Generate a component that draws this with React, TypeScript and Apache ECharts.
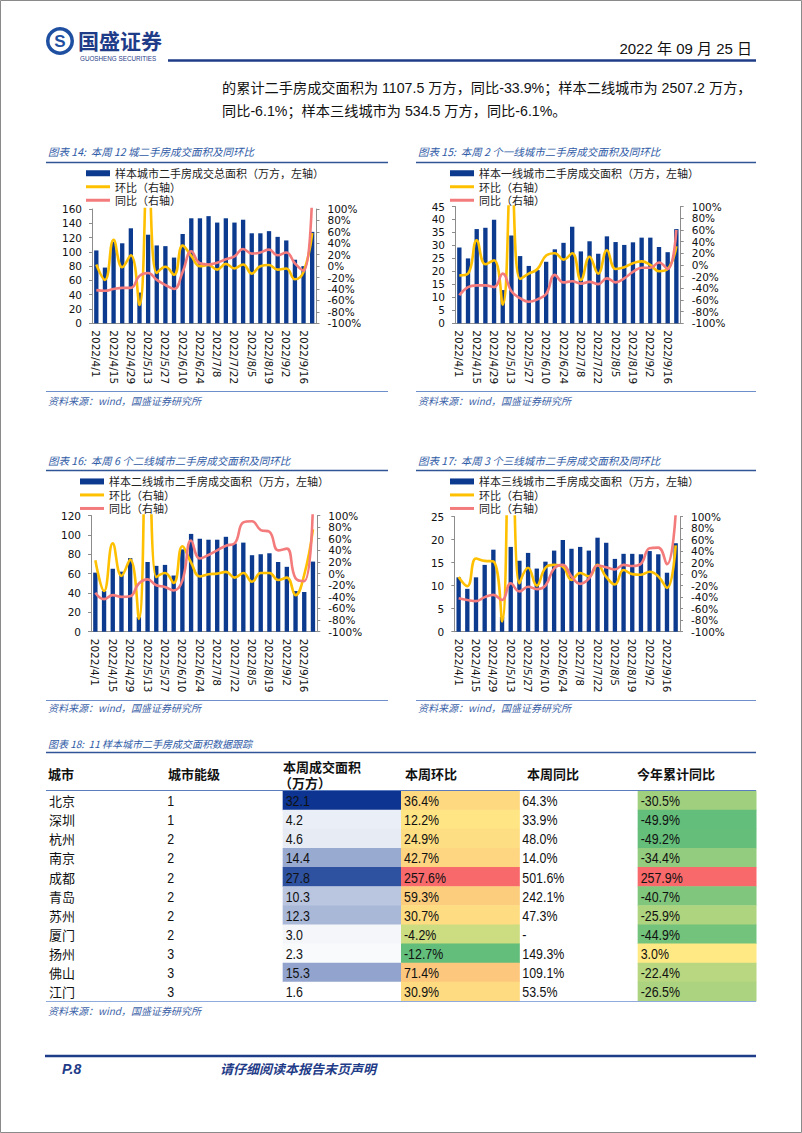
import { useEffect, useRef } from 'react';
import * as echarts from 'echarts';

// ---------- data ----------
const weeks = ['2022/4/1','2022/4/8','2022/4/15','2022/4/22','2022/4/29','2022/5/6','2022/5/13','2022/5/20','2022/5/27','2022/6/3','2022/6/10','2022/6/17','2022/6/24','2022/7/1','2022/7/8','2022/7/15','2022/7/22','2022/7/29','2022/8/5','2022/8/12','2022/8/19','2022/8/26','2022/9/2','2022/9/9','2022/9/16','2022/9/23'];

const area12 = [102, 78, 114, 112, 133, 43, 124, 109, 108, 92, 125, 147, 147, 150, 141, 147, 141, 145, 126, 126, 129, 121, 116, 89, 80, 128];
const wow12 = [3, -24, 46, -2, 19, -68, 188, -12, -1, -15, 36, 18, 0, 2, -6, 4, -4, 3, -13, 0, 2, -6, -4, -23, -10, 58];
const yoy12 = [-42, -43, -40, -38, -38, -17, -12, -24, -33, -40, -10, 26, 5, 3, 6, 12, 17, 30, 22, 24, 29, 19, 24, 5, -8, 130];

const area1 = [29.2, 25.0, 36.3, 36.8, 39.9, 12.8, 33.8, 25.9, 22.1, 20.5, 23.7, 28.5, 31.0, 37.2, 27.7, 31.6, 26.8, 33.5, 31.3, 30.2, 31.2, 33.0, 33.0, 29.4, 27.4, 36.3];
const wow1 = [-18, -15, 42, 1, 8, -68, 164, -24, -15, -7, 16, 20, 9, 20, -26, 14, -15, 25, -7, -4, 3, 6, 0, -11, -7, 32];
const yoy1 = [-52, -38, -35, -35, -38, -15, -45, -57, -63, -59, -50, -17, -30, -28, -32, -29, -33, -23, -30, -23, -12, -5, -5, 4, -7, 60];

const area2 = [61, 42, 65, 62, 76, 15, 72, 68, 69, 58, 85, 101, 96, 95, 95, 98, 91, 92, 79, 80, 81, 72, 67, 42, 41, 72.4];
const wow2 = [23, -30, 52, -4, 24, -78, 380, -6, 1, -16, 47, 19, -5, -1, 0, 3, -7, 1, -14, 1, 1, -11, -7, -37, -2, 76];
const yoy2 = [-33, -44, -37, -40, -39, -17, -10, -20, -23, -29, -12, 57, 26, 32, 40, 48, 52, 88, 90, 75, 72, 40, 43, -8, -13, 120];

const area3 = [11.8, 9.3, 11.8, 14.5, 17.8, 3.2, 18.4, 15.4, 17.1, 13.7, 15.2, 17.6, 19.9, 18.0, 18.4, 17.6, 20.4, 19.3, 15.8, 16.9, 16.9, 16.8, 17.5, 16.8, 12.8, 19.2];
const wow3 = [-5, -21, 27, 23, 22, -82, 475, -16, 11, -20, 11, 16, 13, -10, 2, -4, 16, -5, -18, 7, 0, -1, 4, -4, -24, 50];
const yoy3 = [-42, -45, -47, -40, -36, -45, -16, -30, -22, -26, -20, 10, 16, -4, -17, -8, 15, 12, 8, 16, 14, 18, 45, 46, 17, 105];

const chartTitles = [
  '图表 14:  本周 12 城二手房成交面积及同环比',
  '图表 15:  本周 2 个一线城市二手房成交面积及同环比',
  '图表 16:  本周 6 个二线城市二手房成交面积及同环比',
  '图表 17:  本周 3 个三线城市二手房成交面积及同环比',
];
const barNames = [
  '样本城市二手房成交总面积（万方，左轴）',
  '样本一线城市二手房成交面积（万方，左轴）',
  '样本二线城市二手房成交面积（万方，左轴）',
  '样本三线城市二手房成交面积（万方，左轴）',
];
const wowName = '环比（右轴）';
const yoyName = '同比（右轴）';
const leftMax = [160, 45, 120, 25];
const leftStep = [20, 5, 20, 5];
const rightTicks = { min: -100, max: 100, step: 20 };

const tableTitle = '图表 18:  11 样本城市二手房成交面积数据跟踪';
const tableHeaders = ['城市', '城市能级', '本周成交面积', '本周环比', '本周同比', '今年累计同比'];
const tableHeaderUnit = '（万方）';
const tableCities = ['北京', '深圳', '杭州', '南京', '成都', '青岛', '苏州', '厦门', '扬州', '佛山', '江门'];
const tableLevels = [1, 1, 2, 2, 2, 2, 2, 2, 3, 3, 3];
const tableArea = [32.1, 4.2, 4.6, 14.4, 27.8, 10.3, 12.3, 3.0, 2.3, 15.3, 1.6];
const tableWow = [36.4, 12.2, 24.9, 42.7, 257.6, 59.3, 30.7, -4.2, -12.7, 71.4, 30.9];
const tableYoy = ['64.3%', '33.9%', '48.0%', '14.0%', '501.6%', '242.1%', '47.3%', '-', '149.3%', '109.1%', '53.5%'];
const tableYtd = [-30.5, -49.9, -49.2, -34.4, 257.9, -40.7, -25.9, -44.9, 3.0, -22.4, -26.5];

const sourceText = '资料来源：wind，国盛证券研究所';
const bodyLines = [
  '的累计二手房成交面积为 1107.5 万方，同比-33.9%；样本二线城市为 2507.2 万方，',
  '同比-6.1%；样本三线城市为 534.5 万方，同比-6.1%。',
];

// ---------- styles / layout ----------
const NUM_FONT = "'DejaVu Sans'";
const CJK_FONT = "'Noto Sans CJK SC'";
const LAT_FONT = "'Liberation Sans', 'Noto Sans CJK SC'";
const NAVY = '#1F3C88';
const TITLE_BLUE = '#2E5AA6';
const BAR_BLUE = '#0B3A8E';
const YELLOW = '#FFC000';
const SALMON = '#F47B7C';
const AXIS_GRAY = '#8C8C8C';
const LINE_ICON = 'path://M0,0H40V5H0Z';

const panels = [
  { gx: 92, gy: 209, gw: 224.5, gh: 114.3, lx: 86, ly: 167.5, px: 46, pw: 342, ty: 151.5, tly: 162.5, sly: 391.5, sy: 400 },
  { gx: 455, gy: 206.5, gw: 225.7, gh: 116.8, lx: 450, ly: 167.5, px: 416, pw: 340, ty: 151.5, tly: 162.5, sly: 391.5, sy: 400 },
  { gx: 91, gy: 515.5, gw: 226.3, gh: 116.2, lx: 80, ly: 475.7, px: 46, pw: 342, ty: 460.5, tly: 470.5, sly: 700.5, sy: 707.5 },
  { gx: 454.3, gy: 516.5, gw: 225.7, gh: 115.2, lx: 450, ly: 475.7, px: 416, pw: 340, ty: 460.5, tly: 470.5, sly: 700.5, sy: 707.5 },
];
const tableBox = { left: 46, top: 790.5, width: 710, height: 210.5 };
const headerX = [48, 168, 283, 405, 527, 637];

// conditional-format colour scales
const GREEN = [99, 190, 123];
const YEL = [255, 235, 132];
const RED = [248, 105, 107];
const WHITE = [255, 255, 255];
const DEEP = [12, 52, 144];
const mix = (a: number[], b: number[], t: number) => a.map((v, i) => Math.round(v + (b[i] - v) * Math.max(0, Math.min(1, t))));
const rgb = (c: number[]) => `rgb(${c.join(',')})`;
const blueScale = (v: number, arr: number[]) => {
  const mn = Math.min(...arr), mx = Math.max(...arr);
  return rgb(mix(WHITE, DEEP, (v - mn) / (mx - mn)));
};
const gyrScale = (v: number, arr: number[]) => {
  const mn = Math.min(...arr), mx = Math.max(...arr);
  return v <= 0 ? rgb(mix(GREEN, YEL, (v - mn) / (0 - mn))) : rgb(mix(YEL, RED, v / mx));
};

function txt(text: string, x: number, y: number, o: any = {}) {
  const align = o.align || 'left';
  return {
    type: 'text',
    silent: true,
    style: {
      text, x, y,
      fill: o.fill || '#111',
      fontSize: o.fontSize || 12,
      fontFamily: o.fontFamily || CJK_FONT,
      fontWeight: o.fontWeight || 'normal',
      fontStyle: o.fontStyle || 'normal',
      align, textAlign: align,
      verticalAlign: 'middle', textVerticalAlign: 'middle',
    },
    z: 10,
  };
}
function hline(x1: number, x2: number, y: number, stroke: string, lineWidth: number) {
  return { type: 'line', silent: true, shape: { x1, y1: y, x2, y2: y }, style: { stroke, lineWidth }, z: 10 };
}

function buildOption() {
  const datasets = [
    { area: area12, wow: wow12, yoy: yoy12 },
    { area: area1, wow: wow1, yoy: yoy1 },
    { area: area2, wow: wow2, yoy: yoy2 },
    { area: area3, wow: wow3, yoy: yoy3 },
  ];
  const grid: any[] = [], xAxis: any[] = [], yAxis: any[] = [], series: any[] = [], legend: any[] = [], graphic: any[] = [];

  datasets.forEach((d, i) => {
    const p = panels[i];
    grid.push({ left: p.gx, top: p.gy, width: p.gw, height: p.gh, containLabel: false, outerBoundsMode: 'none' });
    xAxis.push({
      type: 'category', gridIndex: i, data: weeks, boundaryGap: true,
      axisLine: { show: true, onZero: false, lineStyle: { color: AXIS_GRAY, width: 1 } },
      axisTick: { show: false },
      axisLabel: { interval: 1, rotate: -90, margin: 7, fontSize: 10.5, fontFamily: NUM_FONT, color: '#111' },
      splitLine: { show: false },
    });
    yAxis.push({
      type: 'value', gridIndex: i, position: 'left', min: 0, max: leftMax[i], interval: leftStep[i],
      axisLine: { show: true, lineStyle: { color: AXIS_GRAY, width: 1 } },
      axisTick: { show: true, length: 3, lineStyle: { color: AXIS_GRAY } },
      axisLabel: { margin: 10, fontSize: 10.5, fontFamily: NUM_FONT, color: '#111' },
      splitLine: { show: false },
    });
    yAxis.push({
      type: 'value', gridIndex: i, position: 'right', min: rightTicks.min, max: rightTicks.max, interval: rightTicks.step,
      axisLine: { show: true, lineStyle: { color: AXIS_GRAY, width: 1 } },
      axisTick: { show: true, length: 3, lineStyle: { color: AXIS_GRAY } },
      axisLabel: { margin: 11, fontSize: 10.5, fontFamily: NUM_FONT, color: '#111', formatter: '{value}%' },
      splitLine: { show: false },
    });
    series.push({
      type: 'bar', name: barNames[i], xAxisIndex: i, yAxisIndex: 2 * i, data: d.area,
      barWidth: '50%', color: BAR_BLUE, itemStyle: { color: BAR_BLUE }, z: 2,
    });
    series.push({
      type: 'line', name: wowName, xAxisIndex: i, yAxisIndex: 2 * i + 1, data: d.wow,
      smooth: 0.45, symbol: 'none', clip: true, color: YELLOW,
      lineStyle: { color: YELLOW, width: 2.6 }, itemStyle: { color: YELLOW }, z: 3,
    });
    series.push({
      type: 'line', name: yoyName, xAxisIndex: i, yAxisIndex: 2 * i + 1, data: d.yoy,
      smooth: 0.45, symbol: 'none', clip: true, color: SALMON,
      lineStyle: { color: SALMON, width: 2.6 }, itemStyle: { color: SALMON }, z: 4,
    });
    legend.push({
      orient: 'vertical', left: p.lx, top: p.ly, padding: 0, itemGap: 2,
      itemWidth: 24, itemHeight: 6, selectedMode: false,
      textStyle: { fontSize: 11, lineHeight: 11.5, fontFamily: CJK_FONT, color: '#222' },
      itemStyle: { borderWidth: 0 },
      data: [
        { name: barNames[i], icon: 'rect' },
        { name: wowName, icon: LINE_ICON },
        { name: yoyName, icon: LINE_ICON },
      ],
    });
    graphic.push(txt(chartTitles[i], p.px + 2, p.ty, { fontSize: 10.5, fontStyle: 'italic', fill: TITLE_BLUE }));
    graphic.push(hline(p.px, p.px + p.pw, p.tly, '#2F5597', 1.3));
    graphic.push(hline(p.px, p.px + p.pw, p.sly, '#6F8FCB', 1));
    graphic.push(txt(sourceText, p.px + 2, p.sy, { fontSize: 10, fontStyle: 'italic', fill: '#3D63A8' }));
  });

  // table grid
  grid.push({ left: tableBox.left, top: tableBox.top, width: tableBox.width, height: tableBox.height, outerBoundsMode: 'none' });
  xAxis.push({ type: 'category', gridIndex: 4, data: tableHeaders, show: false, boundaryGap: true });
  yAxis.push({ type: 'category', gridIndex: 4, data: tableCities, show: false, inverse: true, boundaryGap: true });

  const cells: any[] = [];
  tableCities.forEach((city, r) => {
    cells.push({ col: 0, row: r, text: city, cjk: true });
    cells.push({ col: 1, row: r, text: String(tableLevels[r]) });
    cells.push({ col: 2, row: r, text: tableArea[r].toFixed(1), fill: blueScale(tableArea[r], tableArea) });
    cells.push({ col: 3, row: r, text: tableWow[r].toFixed(1) + '%', fill: gyrScale(tableWow[r], tableWow) });
    cells.push({ col: 4, row: r, text: tableYoy[r] });
    cells.push({ col: 5, row: r, text: tableYtd[r].toFixed(1) + '%', fill: gyrScale(tableYtd[r], tableYtd) });
  });
  series.push({
    type: 'custom', xAxisIndex: 4, yAxisIndex: 8,
    data: cells.map((c) => [c.col, c.row]),
    encode: { x: 0, y: 1 },
    renderItem: (params: any, api: any) => {
      const cell = cells[params.dataIndex];
      const pt = api.coord([api.value(0), api.value(1)]);
      const sz = api.size([1, 1]);
      const x0 = pt[0] - sz[0] / 2;
      const y0 = pt[1] - sz[1] / 2;
      const children: any[] = [];
      if (cell.fill) {
        children.push({ type: 'rect', shape: { x: x0, y: y0, width: sz[0] + 0.5, height: sz[1] + 0.5 }, style: { fill: cell.fill } });
      }
      children.push({
        type: 'text',
        x: x0 + 3, y: pt[1] + 0.5,
        scaleX: cell.cjk ? 1 : 0.8,
        style: {
          text: cell.text, x: 0, y: 0,
          fill: '#111',
          fontSize: cell.cjk ? 13 : 15.5,
          fontFamily: cell.cjk ? CJK_FONT : LAT_FONT,
          align: 'left', textAlign: 'left', verticalAlign: 'middle', textVerticalAlign: 'middle',
        },
      });
      return { type: 'group', children };
    },
  });

  // page decorations
  graphic.push({ type: 'rect', silent: true, shape: { x: 0.5, y: 0.5, width: 801, height: 1132 }, style: { fill: 'none', stroke: '#8a8a8a', lineWidth: 1 }, z: 10 });
  graphic.push({ type: 'circle', silent: true, shape: { cx: 60, cy: 41, r: 14 }, style: { fill: '#1E4FA0' }, z: 10 });
  graphic.push({ type: 'circle', silent: true, shape: { cx: 60, cy: 41, r: 10.5 }, style: { fill: '#fff' }, z: 10 });
  graphic.push(txt('S', 60, 41.5, { align: 'center', fontSize: 17, fontWeight: 'bold', fontFamily: LAT_FONT, fill: '#1E4FA0' }));
  graphic.push(txt('国盛证券', 78, 40, { fontSize: 21, fontWeight: 'bold', fill: NAVY }));
  graphic.push(txt('GUOSHENG SECURITIES', 80, 58, { fontSize: 6.3, fontFamily: LAT_FONT, fill: NAVY }));
  graphic.push(txt('2022 年 09 月 25 日', 752, 48, { align: 'right', fontSize: 15, fontFamily: LAT_FONT, fill: '#111' }));
  graphic.push(hline(168, 756, 60.5, NAVY, 2.5));
  graphic.push(txt(bodyLines[0], 222, 88, { fontSize: 14.2, fontFamily: LAT_FONT, fill: '#111' }));
  graphic.push(txt(bodyLines[1], 222, 111, { fontSize: 14.2, fontFamily: LAT_FONT, fill: '#111' }));

  // table title + header
  graphic.push(txt(tableTitle, 48, 743, { fontSize: 10, fontStyle: 'italic', fill: TITLE_BLUE }));
  graphic.push(hline(46, 756, 752.5, '#2F5597', 1.3));
  tableHeaders.forEach((h, c) => {
    if (c === 2) {
      graphic.push(txt(h, headerX[c], 766, { fontSize: 13, fontWeight: 'bold', fill: '#111' }));
      graphic.push(txt(tableHeaderUnit, headerX[c] - 4, 782, { fontSize: 13, fontWeight: 'bold', fill: '#111' }));
    } else {
      graphic.push(txt(h, headerX[c], 773, { fontSize: 13, fontWeight: 'bold', fill: '#111' }));
    }
  });
  graphic.push(hline(46, 756, 790.5, '#5B7DBF', 1));
  graphic.push(hline(46, 756, 1001.5, '#8FAADC', 1));
  graphic.push(txt(sourceText, 48, 1010, { fontSize: 10, fontStyle: 'italic', fill: '#3D63A8' }));

  // footer
  graphic.push(hline(45, 756, 1056, NAVY, 2.5));
  graphic.push(txt('P.8', 62, 1068.5, { fontSize: 14, fontWeight: 'bold', fontStyle: 'italic', fontFamily: LAT_FONT, fill: NAVY }));
  graphic.push(txt('请仔细阅读本报告末页声明', 220, 1068.5, { fontSize: 13, fontWeight: 'bold', fontStyle: 'italic', fill: NAVY }));

  return {
    animation: false,
    backgroundColor: '#ffffff',
    textStyle: { fontFamily: CJK_FONT },
    grid, xAxis, yAxis, series, legend, graphic,
  };
}

export default function App() {
  const ref = useRef<HTMLDivElement>(null);
  useEffect(() => {
    if (!ref.current) return;
    const chart = echarts.init(ref.current, null, { renderer: 'svg', width: 802, height: 1133 });
    chart.setOption(buildOption() as any);
    return () => chart.dispose();
  }, []);
  return (
    <div
      ref={ref}
      style={{ position: 'absolute', left: 0, top: 0, width: 802, height: 1133, background: '#fff' }}
    />
  );
}
